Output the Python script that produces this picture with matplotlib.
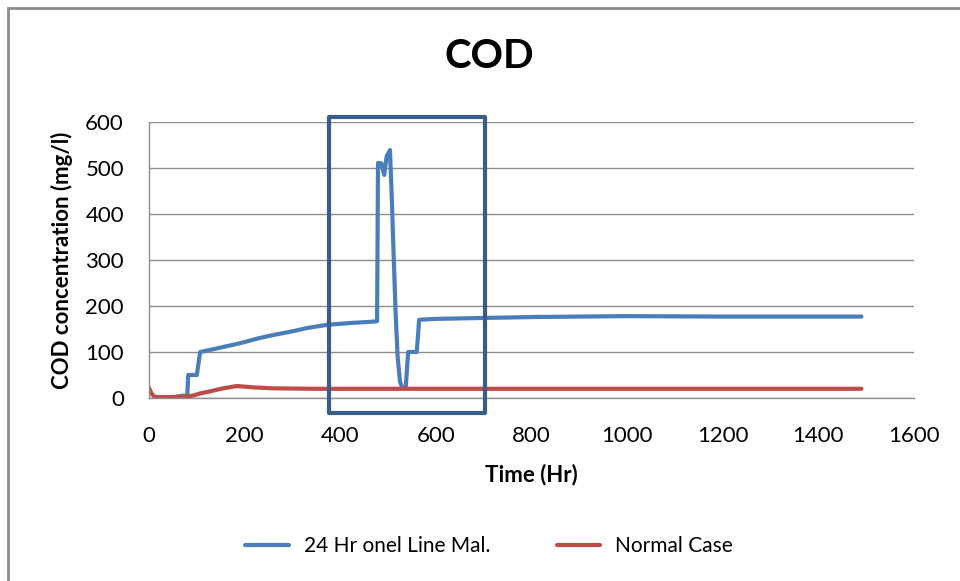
import matplotlib
matplotlib.use("Agg")
import matplotlib.pyplot as plt
from matplotlib.patches import Rectangle

plt.rcParams['font.family'] = ['Lato', 'DejaVu Sans']

# Data
blue_x = [58, 70, 80, 82, 100, 107, 130, 160, 190, 230, 260, 300, 330, 372, 420, 469, 477,
          479, 486, 492, 497, 504, 508, 512, 516, 520, 525, 530, 537, 542, 560, 565,
          600, 700, 800, 1000, 1200, 1490]
blue_y = [3, 5, 5, 50, 50, 100, 105, 112, 119, 130, 137, 145, 152, 159, 163, 166, 167,
          511, 510, 485, 525, 539, 430, 300, 180, 90, 35, 22, 22, 100, 100, 170,
          172, 174, 176, 178, 177, 177]
red_x = [0, 5, 12, 40, 79, 95, 107, 130, 155, 184, 220, 260, 350, 500, 800, 1200, 1490]
red_y = [22, 10, 2, 2, 3, 6, 10, 15, 21, 26, 23, 21, 20, 20, 20, 20, 20]

series_names = ["24 Hr onel Line Mal.", "Normal Case"]
title = "COD"
x_label = "Time (Hr)"
y_label = "COD concentration (mg/l)"
x_ticks = [0, 200, 400, 600, 800, 1000, 1200, 1400, 1600]
y_ticks = [0, 100, 200, 300, 400, 500, 600]
box_x = (377, 703)
box_y = (-33, 611)

fig = plt.figure(figsize=(9.6, 5.81), dpi=100)
ax = fig.add_axes([149/960, 1 - 398/581, (914-149)/960, (398-122)/581])

ax.plot(blue_x, blue_y, color='#4A7EBB', lw=3, solid_joinstyle='round', solid_capstyle='round',
        label=series_names[0])
ax.plot(red_x, red_y, color='#BE4B48', lw=3, solid_joinstyle='round', solid_capstyle='round',
        label=series_names[1])

ax.set_xlim(0, 1600)
ax.set_ylim(0, 600)
ax.set_xticks(x_ticks)
ax.set_yticks(y_ticks)
ax.tick_params(length=0, labelsize=16, colors='#000000')
ax.tick_params(axis='x', pad=20)
ax.tick_params(axis='y', pad=18)
ax.grid(axis='y', color='#8C8C8C', lw=1)
ax.set_axisbelow(True)
for s in ['top', 'right']:
    ax.spines[s].set_visible(False)
for s in ['left', 'bottom']:
    ax.spines[s].set_color('#8C8C8C')
    ax.spines[s].set_linewidth(1)

ax.set_xlabel(x_label, fontsize=16, fontweight='bold', labelpad=13)
ax.set_ylabel(y_label, fontsize=16, fontweight='bold', labelpad=9)
fig.text(489/960, 1 - 56/581, title, fontsize=29, fontweight='bold', ha='center', va='center')

rect = Rectangle((box_x[0], box_y[0]), box_x[1]-box_x[0], box_y[1]-box_y[0],
                 fill=False, edgecolor='#385D8A', lw=3, clip_on=False, zorder=5,
                 joinstyle='round')
ax.add_patch(rect)

fig.legend(loc='center', bbox_to_anchor=(489/960, 1 - 546/581), ncol=2, frameon=False,
           fontsize=15, handlelength=2.1, columnspacing=3.2, handletextpad=0.7)

frame = Rectangle((8/960, -0.1), 1.1, 1 - 8/581 + 0.1, transform=fig.transFigure,
                  fill=False, edgecolor='#8C8C8C', lw=2)
fig.patches.append(frame)

fig.savefig('out.png', dpi=100)
